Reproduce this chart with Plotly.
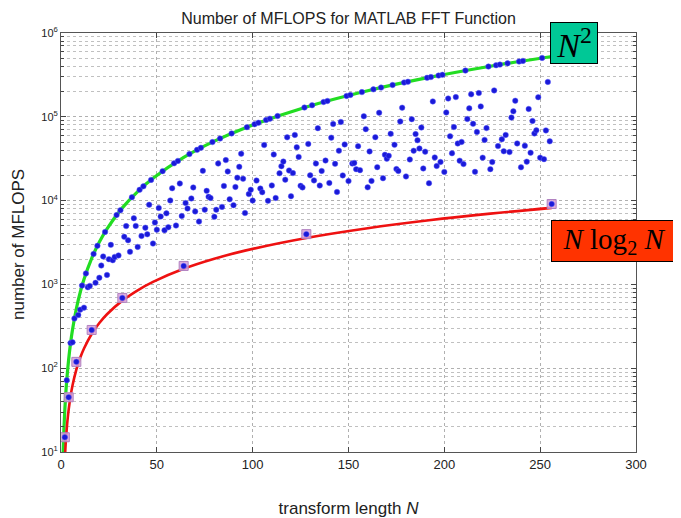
import plotly.graph_objects as go

# ---- data ----
N_vals = list(range(2, 257))
flops = [
    15, 72, 45, 200, 204, 392, 119, 432, 500, 968, 528, 1352, 924, 960, 286,        # 2-16
    2312, 1044, 2888, 1200, 1680, 2156, 4232, 1296, 2000, 2964, 1944, 2128, 6728,   # 17-29
    2220, 7688, 690, 3696, 4964, 3360, 2448, 10952, 6156, 4992, 2800, 13448, 3780,  # 30-42
    14792, 4752, 3960, 8924, 17672, 3072, 5488, 4500, 8160, 6448, 22472, 4428,      # 43-54
    7040, 4816, 10032, 14036, 27848, 5040, 29768, 15996, 6552, 1660, 9360, 8052,    # 55-66
    35912, 10608, 14352, 7420, 40328, 5616, 42632, 22644, 7800, 13072, 11088,       # 67-77
    10764, 49928, 6400, 7776, 27716, 55112, 8400, 14960, 30444, 22272, 10384,       # 78-88
    63368, 8820, 14560, 18768, 25296, 36284, 18240, 7104, 75272, 11956, 13464,      # 89-99
    10000, 81608, 17340, 84872, 13936, 12600, 46004, 91592, 9936, 95048, 15180,     # 100-110
    35520, 10752, 102152, 21204, 25760, 29232, 17784, 56876, 22848, 11280, 21296,   # 111-121
    60756, 43296, 33232, 15000, 14364, 129032, 3980, 47472, 20020, 137288, 17424,   # 122-132
    27664, 73164, 15120, 22576, 150152, 30084, 154568, 16240, 56400, 82076, 27456,  # 133-143
    12672, 39440, 86724, 19992, 46768, 177608, 17100, 182408, 27664, 28152, 23716,  # 144-154
    44640, 23088, 197192, 101436, 71232, 14400, 38640, 17172, 212552, 57072, 25080, # 155-165
    111884, 223112, 18480, 35152, 31620, 34200, 62608, 239432, 46284, 23800, 22528, # 166-176
    87792, 128516, 256328, 19440, 262088, 30940, 93696, 39376, 62160, 52452, 41888, # 177-187
    74448, 24192, 38380, 291848, 16128, 297992, 152484, 32760, 25872, 310472,       # 188-197
    28908, 316808, 22000, 112560, 165236, 58464, 36720, 75440, 171804, 48024,       # 198-207
    29952, 50160, 27300, 356168, 94128, 126096, 185324, 82560, 22032, 65968,        # 208-217
    192276, 133152, 32560, 53040, 73260, 397832, 23744, 28800, 206564, 412232,      # 218-227
    44688, 419528, 53820, 38808, 60784, 434312, 37908, 97760, 116112, 155472,       # 228-237
    48076, 456968, 24960, 464648, 45012, 29160, 123952, 37240, 89052, 63232,        # 238-247
    68944, 171312, 32500, 504008, 31248, 68816, 260604, 51000, 9100,                # 248-256
]

pow2_N = [2, 4, 8, 16, 32, 64, 128, 256]
pow2_flops = [15, 45, 119, 286, 690, 1660, 3980, 9100]

# curve "N^2" (green) read at sample points
sq_N = [1, 1.25, 1.5, 2, 2.5, 3, 4, 5, 6, 8, 10, 12, 16, 20, 24, 32, 40, 48, 64, 80, 96, 128, 160, 192, 224, 256]
sq_v = [8, 12.5, 18, 32, 50, 72, 128, 200, 288, 512, 800, 1152, 2048, 3200, 4608, 8192, 12800,
        18432, 32768, 51200, 73728, 131072, 204800, 294912, 401408, 524288]

# curve "N log2 N" (red) read at sample points
nl_N = [2, 2.25, 2.5, 3, 3.5, 4, 5, 6, 8, 10, 12, 16, 20, 24, 32, 40, 48, 64, 80, 96, 128, 160, 192, 224, 256]
nl_v = [8, 10.5, 13.2, 19.0, 25.3, 32, 46.4, 62.0, 96, 133, 172, 256, 346, 440, 640, 851, 1072,
        1536, 2023, 2529, 3584, 4686, 5825, 6995, 8192]

fig = go.Figure()
fig.add_trace(go.Scatter(x=sq_N, y=sq_v, mode="lines", line=dict(color="#22dd22", width=3.2, shape="spline"),
                         hoverinfo="skip"))
fig.add_trace(go.Scatter(x=nl_N, y=nl_v, mode="lines", line=dict(color="#ee1111", width=2.6, shape="spline"),
                         hoverinfo="skip"))
fig.add_trace(go.Scatter(x=pow2_N, y=pow2_flops, mode="markers",
                         marker=dict(symbol="square", size=9, color="rgba(215,160,215,0.85)",
                                     line=dict(color="#b080c0", width=1))))
fig.add_trace(go.Scatter(x=N_vals, y=flops, mode="markers",
                         marker=dict(symbol="circle", size=5.5, color="#1a1ad8",
                                     line=dict(color="rgba(90,90,255,0.6)", width=0.8))))

# the page body adds an 8 px offset; the figure is sized so it fits the 681x518 window
W, H = 673, 510
PL, PR, PT, PB = 53, 628, 25, 444   # plot-area edges in figure pixels
pw, ph = PR - PL, PB - PT

grid = dict(showgrid=True, gridcolor="#b0b0b0", griddash="dot", gridwidth=1)
fig.update_layout(
    width=W, height=H,
    margin=dict(l=PL, r=W - PR, t=PT, b=H - PB),
    paper_bgcolor="white", plot_bgcolor="white",
    showlegend=False,
    font=dict(family="Liberation Sans, Arial, sans-serif", color="#222", size=13),
    title=dict(text="Number of MFLOPS for MATLAB FFT Function", x=0.5, xref="paper",
               y=1 - 10 / H, yref="container", yanchor="middle",
               font=dict(size=16, color="#222")),
    xaxis=dict(range=[0, 300], tickvals=[0, 50, 100, 150, 200, 250, 300], ticks="inside", ticklen=5,
               showline=True, linecolor="#555", linewidth=1, mirror="ticks", zeroline=False,
               tickfont=dict(size=13), automargin=False, **grid,
               title=dict(text="transform length <i>N</i>", font=dict(size=17), standoff=32)),
    yaxis=dict(type="log", range=[1, 6], tickvals=[10, 100, 1000, 10000, 100000, 1000000],
               ticktext=["10<sup>1</sup>", "10<sup>2</sup>", "10<sup>3</sup>", "10<sup>4</sup>",
                         "10<sup>5</sup>", "10<sup>6</sup>"],
               ticks="inside", ticklen=5, showline=True, linecolor="#555", linewidth=1, mirror="ticks",
               zeroline=False, tickfont=dict(size=11), automargin=False, **grid,
               minor=dict(showgrid=True, gridcolor="#c0c0c0", griddash="dot", ticks="inside", ticklen=3,
                          dtick="D1")),
)

# y-axis label placed as in the reference (x ~ 18 px in the page)
fig.add_annotation(xref="paper", yref="paper", x=(18 - 8 - PL) / pw, y=(PB - (245 - 8)) / ph,
                   text="number of MFLOPS", textangle=-90, showarrow=False,
                   font=dict(size=17, color="#222"), xanchor="center", yanchor="middle")

fig.add_annotation(xref="paper", yref="paper", x=(574 - 8 - PL) / pw, y=(PB - (43 - 8)) / ph,
                   text="<i>N</i><sup>2</sup>", showarrow=False,
                   font=dict(family="Liberation Serif, Times New Roman, serif", size=34, color="black"),
                   bgcolor="#00c896", bordercolor="black", borderwidth=1, width=44, height=38,
                   xanchor="center", yanchor="middle")
fig.add_annotation(xref="paper", yref="paper", x=(614 - 8 - PL) / pw, y=(PB - (241.5 - 8)) / ph,
                   text="<i>N</i> log<sub>2</sub> <i>N</i>", showarrow=False,
                   font=dict(family="Liberation Serif, Times New Roman, serif", size=29, color="black"),
                   bgcolor="#ff3300", bordercolor="black", borderwidth=1, width=122, height=38,
                   xanchor="center", yanchor="middle")

fig.write_html("out.html")
